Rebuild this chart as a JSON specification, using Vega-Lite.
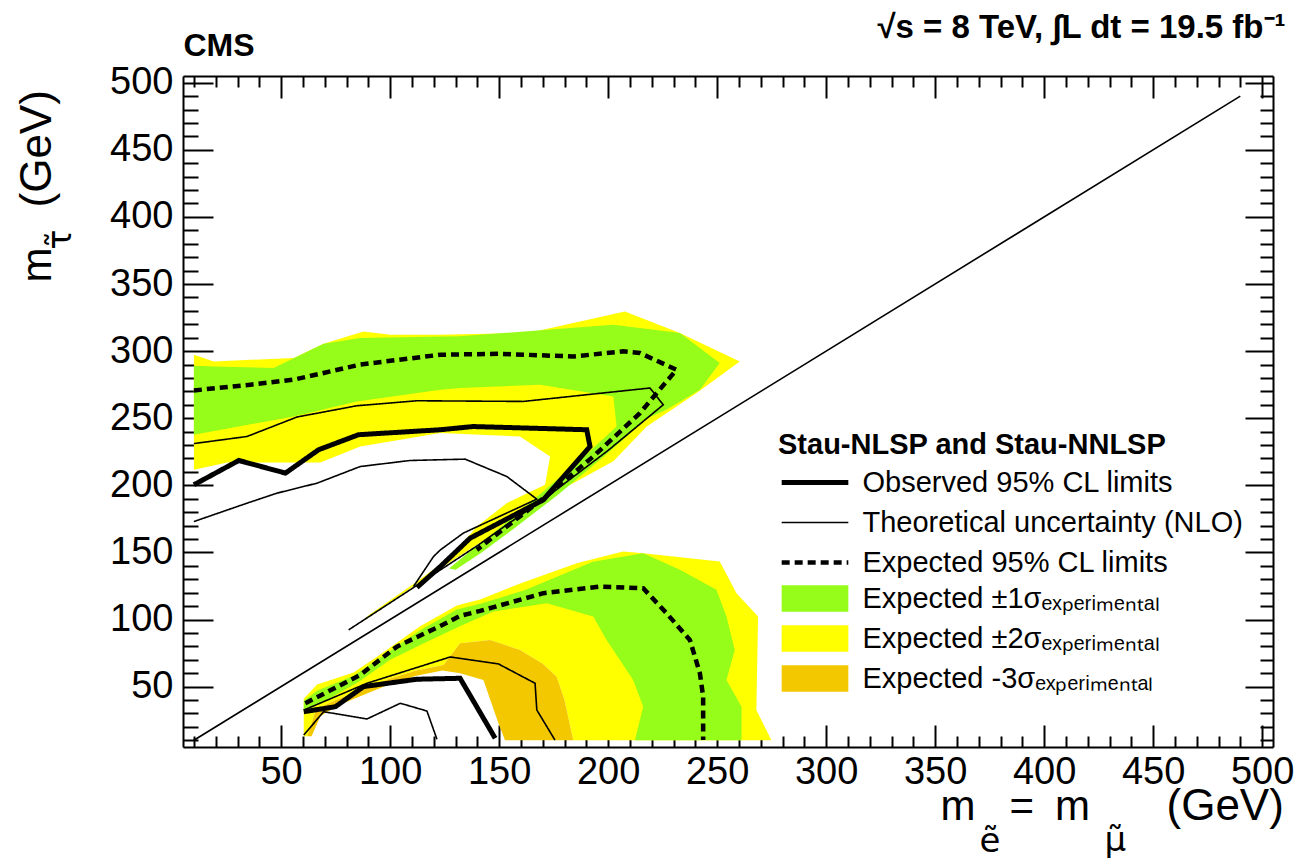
{
  "$schema": "https://vega.github.io/schema/vega-lite/v6.json",
  "width": 1090,
  "height": 671,
  "autosize": {"type": "none"},
  "padding": {"left": 183, "top": 76, "right": 29, "bottom": 112},
  "background": "white",
  "config": {"view": {"stroke": null}, "font": "Liberation Sans"},
  "resolve": {"axis": {"x": "independent", "y": "independent"}},
  "layer": [
    {
      "data": {"values": [
        {"poly":"Yu","band":"Expected ±2σₑₓₚₑᵣᵢₘₑₙₜₐₗ","i":0,"x":10,"y":297.3},
        {"poly":"Yu","band":"Expected ±2σₑₓₚₑᵣᵢₘₑₙₜₐₗ","i":1,"x":19.1,"y":292.3},
        {"poly":"Yu","band":"Expected ±2σₑₓₚₑᵣᵢₘₑₙₜₐₗ","i":2,"x":55.8,"y":294.9},
        {"poly":"Yu","band":"Expected ±2σₑₓₚₑᵣᵢₘₑₙₜₐₗ","i":3,"x":69.5,"y":305.5},
        {"poly":"Yu","band":"Expected ±2σₑₓₚₑᵣᵢₘₑₙₜₐₗ","i":4,"x":87.8,"y":314.7},
        {"poly":"Yu","band":"Expected ±2σₑₓₚₑᵣᵢₘₑₙₜₐₗ","i":5,"x":100.1,"y":312.2},
        {"poly":"Yu","band":"Expected ±2σₑₓₚₑᵣᵢₘₑₙₜₐₗ","i":6,"x":123,"y":312.2},
        {"poly":"Yu","band":"Expected ±2σₑₓₚₑᵣᵢₘₑₙₜₐₗ","i":7,"x":163.4,"y":313.5},
        {"poly":"Yu","band":"Expected ±2σₑₓₚₑᵣᵢₘₑₙₜₐₗ","i":8,"x":207.7,"y":329.6},
        {"poly":"Yu","band":"Expected ±2σₑₓₚₑᵣᵢₘₑₙₜₐₗ","i":9,"x":232.9,"y":313.5},
        {"poly":"Yu","band":"Expected ±2σₑₓₚₑᵣᵢₘₑₙₜₐₗ","i":10,"x":260.4,"y":292.3},
        {"poly":"Yu","band":"Expected ±2σₑₓₚₑᵣᵢₘₑₙₜₐₗ","i":11,"x":240.6,"y":268.8},
        {"poly":"Yu","band":"Expected ±2σₑₓₚₑᵣᵢₘₑₙₜₐₗ","i":12,"x":217.7,"y":243.8},
        {"poly":"Yu","band":"Expected ±2σₑₓₚₑᵣᵢₘₑₙₜₐₗ","i":13,"x":202.4,"y":218},
        {"poly":"Yu","band":"Expected ±2σₑₓₚₑᵣᵢₘₑₙₜₐₗ","i":14,"x":181,"y":199},
        {"poly":"Yu","band":"Expected ±2σₑₓₚₑᵣᵢₘₑₙₜₐₗ","i":15,"x":168.8,"y":186},
        {"poly":"Yu","band":"Expected ±2σₑₓₚₑᵣᵢₘₑₙₜₐₗ","i":16,"x":153.5,"y":169},
        {"poly":"Yu","band":"Expected ±2σₑₓₚₑᵣᵢₘₑₙₜₐₗ","i":17,"x":138.2,"y":154},
        {"poly":"Yu","band":"Expected ±2σₑₓₚₑᵣᵢₘₑₙₜₐₗ","i":18,"x":123,"y":138},
        {"poly":"Yu","band":"Expected ±2σₑₓₚₑᵣᵢₘₑₙₜₐₗ","i":19,"x":110,"y":124},
        {"poly":"Yu","band":"Expected ±2σₑₓₚₑᵣᵢₘₑₙₜₐₗ","i":20,"x":87,"y":98},
        {"poly":"Yu","band":"Expected ±2σₑₓₚₑᵣᵢₘₑₙₜₐₗ","i":21,"x":90,"y":103},
        {"poly":"Yu","band":"Expected ±2σₑₓₚₑᵣᵢₘₑₙₜₐₗ","i":22,"x":112,"y":128},
        {"poly":"Yu","band":"Expected ±2σₑₓₚₑᵣᵢₘₑₙₜₐₗ","i":23,"x":123,"y":141},
        {"poly":"Yu","band":"Expected ±2σₑₓₚₑᵣᵢₘₑₙₜₐₗ","i":24,"x":130.6,"y":151.9},
        {"poly":"Yu","band":"Expected ±2σₑₓₚₑᵣᵢₘₑₙₜₐₗ","i":25,"x":139.8,"y":169.3},
        {"poly":"Yu","band":"Expected ±2σₑₓₚₑᵣᵢₘₑₙₜₐₗ","i":26,"x":153.5,"y":186.7},
        {"poly":"Yu","band":"Expected ±2σₑₓₚₑᵣᵢₘₑₙₜₐₗ","i":27,"x":171.1,"y":200.4},
        {"poly":"Yu","band":"Expected ±2σₑₓₚₑᵣᵢₘₑₙₜₐₗ","i":28,"x":173.4,"y":221.5},
        {"poly":"Yu","band":"Expected ±2σₑₓₚₑᵣᵢₘₑₙₜₐₗ","i":29,"x":159.6,"y":236.4},
        {"poly":"Yu","band":"Expected ±2σₑₓₚₑᵣᵢₘₑₙₜₐₗ","i":30,"x":123,"y":238.9},
        {"poly":"Yu","band":"Expected ±2σₑₓₚₑᵣᵢₘₑₙₜₐₗ","i":31,"x":86.3,"y":228.9},
        {"poly":"Yu","band":"Expected ±2σₑₓₚₑᵣᵢₘₑₙₜₐₗ","i":32,"x":68,"y":217},
        {"poly":"Yu","band":"Expected ±2σₑₓₚₑᵣᵢₘₑₙₜₐₗ","i":33,"x":25.3,"y":217},
        {"poly":"Yu","band":"Expected ±2σₑₓₚₑᵣᵢₘₑₙₜₐₗ","i":34,"x":10,"y":211.6},
        {"poly":"Yl","band":"Expected ±2σₑₓₚₑᵣᵢₘₑₙₜₐₗ","i":0,"x":60.4,"y":13},
        {"poly":"Yl","band":"Expected ±2σₑₓₚₑᵣᵢₘₑₙₜₐₗ","i":1,"x":60.4,"y":41},
        {"poly":"Yl","band":"Expected ±2σₑₓₚₑᵣᵢₘₑₙₜₐₗ","i":2,"x":66.5,"y":51.5},
        {"poly":"Yl","band":"Expected ±2σₑₓₚₑᵣᵢₘₑₙₜₐₗ","i":3,"x":83.3,"y":60.5},
        {"poly":"Yl","band":"Expected ±2σₑₓₚₑᵣᵢₘₑₙₜₐₗ","i":4,"x":95.5,"y":74},
        {"poly":"Yl","band":"Expected ±2σₑₓₚₑᵣᵢₘₑₙₜₐₗ","i":5,"x":113.8,"y":95},
        {"poly":"Yl","band":"Expected ±2σₑₓₚₑᵣᵢₘₑₙₜₐₗ","i":6,"x":130.6,"y":110.5},
        {"poly":"Yl","band":"Expected ±2σₑₓₚₑᵣᵢₘₑₙₜₐₗ","i":7,"x":141.3,"y":115},
        {"poly":"Yl","band":"Expected ±2σₑₓₚₑᵣᵢₘₑₙₜₐₗ","i":8,"x":160,"y":127},
        {"poly":"Yl","band":"Expected ±2σₑₓₚₑᵣᵢₘₑₙₜₐₗ","i":9,"x":185.6,"y":142},
        {"poly":"Yl","band":"Expected ±2σₑₓₚₑᵣᵢₘₑₙₜₐₗ","i":10,"x":206.9,"y":150.6},
        {"poly":"Yl","band":"Expected ±2σₑₓₚₑᵣᵢₘₑₙₜₐₗ","i":11,"x":216.1,"y":149.4},
        {"poly":"Yl","band":"Expected ±2σₑₓₚₑᵣᵢₘₑₙₜₐₗ","i":12,"x":251.2,"y":143.2},
        {"poly":"Yl","band":"Expected ±2σₑₓₚₑᵣᵢₘₑₙₜₐₗ","i":13,"x":258.9,"y":119.6},
        {"poly":"Yl","band":"Expected ±2σₑₓₚₑᵣᵢₘₑₙₜₐₗ","i":14,"x":268.8,"y":102.2},
        {"poly":"Yl","band":"Expected ±2σₑₓₚₑᵣᵢₘₑₙₜₐₗ","i":15,"x":268,"y":32.6},
        {"poly":"Yl","band":"Expected ±2σₑₓₚₑᵣᵢₘₑₙₜₐₗ","i":16,"x":274.9,"y":10},
        {"poly":"Yl","band":"Expected ±2σₑₓₚₑᵣᵢₘₑₙₜₐₗ","i":17,"x":184,"y":10},
        {"poly":"Yl","band":"Expected ±2σₑₓₚₑᵣᵢₘₑₙₜₐₗ","i":18,"x":180,"y":40},
        {"poly":"Yl","band":"Expected ±2σₑₓₚₑᵣᵢₘₑₙₜₐₗ","i":19,"x":176.4,"y":57.4},
        {"poly":"Yl","band":"Expected ±2σₑₓₚₑᵣᵢₘₑₙₜₐₗ","i":20,"x":170,"y":67},
        {"poly":"Yl","band":"Expected ±2σₑₓₚₑᵣᵢₘₑₙₜₐₗ","i":21,"x":159.6,"y":77.3},
        {"poly":"Yl","band":"Expected ±2σₑₓₚₑᵣᵢₘₑₙₜₐₗ","i":22,"x":145.9,"y":84.8},
        {"poly":"Yl","band":"Expected ±2σₑₓₚₑᵣᵢₘₑₙₜₐₗ","i":23,"x":132.1,"y":82.3},
        {"poly":"Yl","band":"Expected ±2σₑₓₚₑᵣᵢₘₑₙₜₐₗ","i":24,"x":124.5,"y":66.1},
        {"poly":"Yl","band":"Expected ±2σₑₓₚₑᵣᵢₘₑₙₜₐₗ","i":25,"x":112,"y":62},
        {"poly":"Yl","band":"Expected ±2σₑₓₚₑᵣᵢₘₑₙₜₐₗ","i":26,"x":100,"y":56},
        {"poly":"Yl","band":"Expected ±2σₑₓₚₑᵣᵢₘₑₙₜₐₗ","i":27,"x":87,"y":48},
        {"poly":"Yl","band":"Expected ±2σₑₓₚₑᵣᵢₘₑₙₜₐₗ","i":28,"x":75,"y":40},
        {"poly":"Yl","band":"Expected ±2σₑₓₚₑᵣᵢₘₑₙₜₐₗ","i":29,"x":66,"y":33},
        {"poly":"Yl","band":"Expected ±2σₑₓₚₑᵣᵢₘₑₙₜₐₗ","i":30,"x":62,"y":13}
      ]},
      "mark": {"type": "line", "strokeWidth": 0, "fillOpacity": 1},
      "encoding": {
        "x": {"field": "x", "type": "quantitative", "scale": {"domain": [5, 505], "nice": false, "zero": false},
          "axis": {"orient": "bottom", "values": [50,100,150,200,250,300,350,400,450,500], "tickSize": -22, "tickWidth": 2, "tickColor": "black", "labels": false, "domain": true, "domainWidth": 2, "domainColor": "black", "grid": false,
            "title": "m", "titleFont": "Liberation Sans", "titleFontSize": 42, "titleFontWeight": "normal", "titleColor": "black", "titleX": 757, "titleY": 72, "titleAlign": "left", "titleBaseline": "alphabetic", "titleAngle": 0}},
        "y": {"field": "y", "type": "quantitative", "scale": {"domain": [5, 505], "nice": false, "zero": false},
          "axis": {"orient": "left", "values": [50,100,150,200,250,300,350,400,450,500], "tickSize": -30, "tickWidth": 2, "tickColor": "black", "labels": false, "domain": true, "domainWidth": 2, "domainColor": "black", "grid": false,
            "title": "m", "titleFont": "Liberation Sans", "titleFontSize": 42, "titleFontWeight": "normal", "titleColor": "black", "titleX": -133, "titleY": 206, "titleAlign": "left", "titleBaseline": "alphabetic", "titleAngle": -90}},
        "detail": {"field": "poly"},
        "order": {"field": "i", "type": "quantitative"},
        "fill": {"field": "band", "type": "nominal",
          "scale": {"domain": ["Expected ±1σₑₓₚₑᵣᵢₘₑₙₜₐₗ", "Expected ±2σₑₓₚₑᵣᵢₘₑₙₜₐₗ", "Expected -3σₑₓₚₑᵣᵢₘₑₙₜₐₗ"], "range": ["#96FC19", "#FFFF00", "#F4C800"]},
          "legend": {"title": null, "orient": "none", "legendX": 595, "legendY": 508, "padding": 0, "labelFont": "Liberation Sans", "labelFontSize": 29, "labelColor": "black", "labelLimit": 0, "labelOffset": 33, "symbolOffset": 22.5, "symbolType": "M-3.333,-1.333H3.333V1.333H-3.333Z", "symbolSize": 400, "symbolStrokeWidth": 0, "symbolOpacity": 1, "rowPadding": 10}}
      }
    },
    {
      "data": {"values": [
        {"poly":"Gu","band":"Expected ±1σₑₓₚₑᵣᵢₘₑₙₜₐₗ","i":0,"x":10,"y":289.1},
        {"poly":"Gu","band":"Expected ±1σₑₓₚₑᵣᵢₘₑₙₜₐₗ","i":1,"x":19.1,"y":288.6},
        {"poly":"Gu","band":"Expected ±1σₑₓₚₑᵣᵢₘₑₙₜₐₗ","i":2,"x":46.6,"y":287.4},
        {"poly":"Gu","band":"Expected ±1σₑₓₚₑᵣᵢₘₑₙₜₐₗ","i":3,"x":69.5,"y":305.5},
        {"poly":"Gu","band":"Expected ±1σₑₓₚₑᵣᵢₘₑₙₜₐₗ","i":4,"x":86.3,"y":309.8},
        {"poly":"Gu","band":"Expected ±1σₑₓₚₑᵣᵢₘₑₙₜₐₗ","i":5,"x":132.1,"y":311},
        {"poly":"Gu","band":"Expected ±1σₑₓₚₑᵣᵢₘₑₙₜₐₗ","i":6,"x":202.4,"y":319.7},
        {"poly":"Gu","band":"Expected ±1σₑₓₚₑᵣᵢₘₑₙₜₐₗ","i":7,"x":232.9,"y":313.5},
        {"poly":"Gu","band":"Expected ±1σₑₓₚₑᵣᵢₘₑₙₜₐₗ","i":8,"x":251.2,"y":291.1},
        {"poly":"Gu","band":"Expected ±1σₑₓₚₑᵣᵢₘₑₙₜₐₗ","i":9,"x":242.1,"y":271.2},
        {"poly":"Gu","band":"Expected ±1σₑₓₚₑᵣᵢₘₑₙₜₐₗ","i":10,"x":226.8,"y":256.3},
        {"poly":"Gu","band":"Expected ±1σₑₓₚₑᵣᵢₘₑₙₜₐₗ","i":11,"x":218,"y":250},
        {"poly":"Gu","band":"Expected ±1σₑₓₚₑᵣᵢₘₑₙₜₐₗ","i":12,"x":197,"y":220},
        {"poly":"Gu","band":"Expected ±1σₑₓₚₑᵣᵢₘₑₙₜₐₗ","i":13,"x":177,"y":193},
        {"poly":"Gu","band":"Expected ±1σₑₓₚₑᵣᵢₘₑₙₜₐₗ","i":14,"x":157,"y":168},
        {"poly":"Gu","band":"Expected ±1σₑₓₚₑᵣᵢₘₑₙₜₐₗ","i":15,"x":142,"y":150},
        {"poly":"Gu","band":"Expected ±1σₑₓₚₑᵣᵢₘₑₙₜₐₗ","i":16,"x":130,"y":137},
        {"poly":"Gu","band":"Expected ±1σₑₓₚₑᵣᵢₘₑₙₜₐₗ","i":17,"x":127,"y":138},
        {"poly":"Gu","band":"Expected ±1σₑₓₚₑᵣᵢₘₑₙₜₐₗ","i":18,"x":136,"y":150},
        {"poly":"Gu","band":"Expected ±1σₑₓₚₑᵣᵢₘₑₙₜₐₗ","i":19,"x":150,"y":168},
        {"poly":"Gu","band":"Expected ±1σₑₓₚₑᵣᵢₘₑₙₜₐₗ","i":20,"x":170,"y":195},
        {"poly":"Gu","band":"Expected ±1σₑₓₚₑᵣᵢₘₑₙₜₐₗ","i":21,"x":190,"y":223},
        {"poly":"Gu","band":"Expected ±1σₑₓₚₑᵣᵢₘₑₙₜₐₗ","i":22,"x":203.9,"y":243.8},
        {"poly":"Gu","band":"Expected ±1σₑₓₚₑᵣᵢₘₑₙₜₐₗ","i":23,"x":202.4,"y":266.2},
        {"poly":"Gu","band":"Expected ±1σₑₓₚₑᵣᵢₘₑₙₜₐₗ","i":24,"x":168.8,"y":275},
        {"poly":"Gu","band":"Expected ±1σₑₓₚₑᵣᵢₘₑₙₜₐₗ","i":25,"x":132.1,"y":272.5},
        {"poly":"Gu","band":"Expected ±1σₑₓₚₑᵣᵢₘₑₙₜₐₗ","i":26,"x":123,"y":271.2},
        {"poly":"Gu","band":"Expected ±1σₑₓₚₑᵣᵢₘₑₙₜₐₗ","i":27,"x":84.8,"y":262.5},
        {"poly":"Gu","band":"Expected ±1σₑₓₚₑᵣᵢₘₑₙₜₐₗ","i":28,"x":55.8,"y":251.3},
        {"poly":"Gu","band":"Expected ±1σₑₓₚₑᵣᵢₘₑₙₜₐₗ","i":29,"x":10,"y":237.7},
        {"poly":"Gl","band":"Expected ±1σₑₓₚₑᵣᵢₘₑₙₜₐₗ","i":0,"x":60.4,"y":39.5},
        {"poly":"Gl","band":"Expected ±1σₑₓₚₑᵣᵢₘₑₙₜₐₗ","i":1,"x":66.5,"y":47},
        {"poly":"Gl","band":"Expected ±1σₑₓₚₑᵣᵢₘₑₙₜₐₗ","i":2,"x":83.3,"y":58},
        {"poly":"Gl","band":"Expected ±1σₑₓₚₑᵣᵢₘₑₙₜₐₗ","i":3,"x":95.5,"y":71.5},
        {"poly":"Gl","band":"Expected ±1σₑₓₚₑᵣᵢₘₑₙₜₐₗ","i":4,"x":113.8,"y":92},
        {"poly":"Gl","band":"Expected ±1σₑₓₚₑᵣᵢₘₑₙₜₐₗ","i":5,"x":130.6,"y":107.5},
        {"poly":"Gl","band":"Expected ±1σₑₓₚₑᵣᵢₘₑₙₜₐₗ","i":6,"x":141,"y":111.5},
        {"poly":"Gl","band":"Expected ±1σₑₓₚₑᵣᵢₘₑₙₜₐₗ","i":7,"x":162,"y":122},
        {"poly":"Gl","band":"Expected ±1σₑₓₚₑᵣᵢₘₑₙₜₐₗ","i":8,"x":193,"y":143},
        {"poly":"Gl","band":"Expected ±1σₑₓₚₑᵣᵢₘₑₙₜₐₗ","i":9,"x":216.1,"y":149.4},
        {"poly":"Gl","band":"Expected ±1σₑₓₚₑᵣᵢₘₑₙₜₐₗ","i":10,"x":232.9,"y":137},
        {"poly":"Gl","band":"Expected ±1σₑₓₚₑᵣᵢₘₑₙₜₐₗ","i":11,"x":249.7,"y":122.1},
        {"poly":"Gl","band":"Expected ±1σₑₓₚₑᵣᵢₘₑₙₜₐₗ","i":12,"x":254.3,"y":102.2},
        {"poly":"Gl","band":"Expected ±1σₑₓₚₑᵣᵢₘₑₙₜₐₗ","i":13,"x":258.1,"y":77.3},
        {"poly":"Gl","band":"Expected ±1σₑₓₚₑᵣᵢₘₑₙₜₐₗ","i":14,"x":254.3,"y":55},
        {"poly":"Gl","band":"Expected ±1σₑₓₚₑᵣᵢₘₑₙₜₐₗ","i":15,"x":261.2,"y":35},
        {"poly":"Gl","band":"Expected ±1σₑₓₚₑᵣᵢₘₑₙₜₐₗ","i":16,"x":261.2,"y":10},
        {"poly":"Gl","band":"Expected ±1σₑₓₚₑᵣᵢₘₑₙₜₐₗ","i":17,"x":212.3,"y":10},
        {"poly":"Gl","band":"Expected ±1σₑₓₚₑᵣᵢₘₑₙₜₐₗ","i":18,"x":216.1,"y":35},
        {"poly":"Gl","band":"Expected ±1σₑₓₚₑᵣᵢₘₑₙₜₐₗ","i":19,"x":211.5,"y":55},
        {"poly":"Gl","band":"Expected ±1σₑₓₚₑᵣᵢₘₑₙₜₐₗ","i":20,"x":199.3,"y":84.8},
        {"poly":"Gl","band":"Expected ±1σₑₓₚₑᵣᵢₘₑₙₜₐₗ","i":21,"x":193.2,"y":102.2},
        {"poly":"Gl","band":"Expected ±1σₑₓₚₑᵣᵢₘₑₙₜₐₗ","i":22,"x":171.9,"y":112.2},
        {"poly":"Gl","band":"Expected ±1σₑₓₚₑᵣᵢₘₑₙₜₐₗ","i":23,"x":147.4,"y":105.9},
        {"poly":"Gl","band":"Expected ±1σₑₓₚₑᵣᵢₘₑₙₜₐₗ","i":24,"x":132,"y":95},
        {"poly":"Gl","band":"Expected ±1σₑₓₚₑᵣᵢₘₑₙₜₐₗ","i":25,"x":115,"y":82},
        {"poly":"Gl","band":"Expected ±1σₑₓₚₑᵣᵢₘₑₙₜₐₗ","i":26,"x":100,"y":70},
        {"poly":"Gl","band":"Expected ±1σₑₓₚₑᵣᵢₘₑₙₜₐₗ","i":27,"x":86,"y":54},
        {"poly":"Gl","band":"Expected ±1σₑₓₚₑᵣᵢₘₑₙₜₐₗ","i":28,"x":70,"y":39},
        {"poly":"Gl","band":"Expected ±1σₑₓₚₑᵣᵢₘₑₙₜₐₗ","i":29,"x":60.4,"y":33}
      ]},
      "mark": {"type": "line", "strokeWidth": 0, "fillOpacity": 1},
      "encoding": {
        "x": {"field": "x", "type": "quantitative",
          "axis": {"orient": "bottom", "values": [10,20,30,40,60,70,80,90,110,120,130,140,160,170,180,190,210,220,230,240,260,270,280,290,310,320,330,340,360,370,380,390,410,420,430,440,460,470,480,490], "tickSize": -11, "tickWidth": 2, "tickColor": "black", "labels": false, "domain": false, "grid": false,
            "title": "ẽ", "titleFont": "DejaVu Sans", "titleFontSize": 34, "titleFontWeight": "normal", "titleColor": "black", "titleX": 796, "titleY": 104, "titleAlign": "left", "titleBaseline": "alphabetic", "titleAngle": 0}},
        "y": {"field": "y", "type": "quantitative",
          "axis": {"orient": "left", "values": [10,20,30,40,60,70,80,90,110,120,130,140,160,170,180,190,210,220,230,240,260,270,280,290,310,320,330,340,360,370,380,390,410,420,430,440,460,470,480,490], "tickSize": -15, "tickWidth": 2, "tickColor": "black", "labels": false, "domain": false, "grid": false,
            "title": "τ̃", "titleFont": "DejaVu Sans", "titleFontSize": 33, "titleFontWeight": "normal", "titleColor": "black", "titleX": -113, "titleY": 173, "titleAlign": "left", "titleBaseline": "alphabetic", "titleAngle": -90}},
        "detail": {"field": "poly"},
        "order": {"field": "i", "type": "quantitative"},
        "fill": {"field": "band", "type": "nominal"}
      }
    },
    {
      "data": {"values": [
        {"poly":"Ol","band":"Expected -3σₑₓₚₑᵣᵢₘₑₙₜₐₗ","i":0,"x":62,"y":13},
        {"poly":"Ol","band":"Expected -3σₑₓₚₑᵣᵢₘₑₙₜₐₗ","i":1,"x":66,"y":33},
        {"poly":"Ol","band":"Expected -3σₑₓₚₑᵣᵢₘₑₙₜₐₗ","i":2,"x":75,"y":40},
        {"poly":"Ol","band":"Expected -3σₑₓₚₑᵣᵢₘₑₙₜₐₗ","i":3,"x":87,"y":48},
        {"poly":"Ol","band":"Expected -3σₑₓₚₑᵣᵢₘₑₙₜₐₗ","i":4,"x":100,"y":56},
        {"poly":"Ol","band":"Expected -3σₑₓₚₑᵣᵢₘₑₙₜₐₗ","i":5,"x":112,"y":62},
        {"poly":"Ol","band":"Expected -3σₑₓₚₑᵣᵢₘₑₙₜₐₗ","i":6,"x":124.5,"y":66.1},
        {"poly":"Ol","band":"Expected -3σₑₓₚₑᵣᵢₘₑₙₜₐₗ","i":7,"x":132.1,"y":82.3},
        {"poly":"Ol","band":"Expected -3σₑₓₚₑᵣᵢₘₑₙₜₐₗ","i":8,"x":145.9,"y":84.8},
        {"poly":"Ol","band":"Expected -3σₑₓₚₑᵣᵢₘₑₙₜₐₗ","i":9,"x":159.6,"y":77.3},
        {"poly":"Ol","band":"Expected -3σₑₓₚₑᵣᵢₘₑₙₜₐₗ","i":10,"x":170,"y":67},
        {"poly":"Ol","band":"Expected -3σₑₓₚₑᵣᵢₘₑₙₜₐₗ","i":11,"x":176.4,"y":57.4},
        {"poly":"Ol","band":"Expected -3σₑₓₚₑᵣᵢₘₑₙₜₐₗ","i":12,"x":180,"y":40},
        {"poly":"Ol","band":"Expected -3σₑₓₚₑᵣᵢₘₑₙₜₐₗ","i":13,"x":184,"y":10},
        {"poly":"Ol","band":"Expected -3σₑₓₚₑᵣᵢₘₑₙₜₐₗ","i":14,"x":152.7,"y":10},
        {"poly":"Ol","band":"Expected -3σₑₓₚₑᵣᵢₘₑₙₜₐₗ","i":15,"x":149.7,"y":22.7},
        {"poly":"Ol","band":"Expected -3σₑₓₚₑᵣᵢₘₑₙₜₐₗ","i":16,"x":142.8,"y":55},
        {"poly":"Ol","band":"Expected -3σₑₓₚₑᵣᵢₘₑₙₜₐₗ","i":17,"x":132.1,"y":60},
        {"poly":"Ol","band":"Expected -3σₑₓₚₑᵣᵢₘₑₙₜₐₗ","i":18,"x":124,"y":62},
        {"poly":"Ol","band":"Expected -3σₑₓₚₑᵣᵢₘₑₙₜₐₗ","i":19,"x":112,"y":58},
        {"poly":"Ol","band":"Expected -3σₑₓₚₑᵣᵢₘₑₙₜₐₗ","i":20,"x":100,"y":52},
        {"poly":"Ol","band":"Expected -3σₑₓₚₑᵣᵢₘₑₙₜₐₗ","i":21,"x":88,"y":44},
        {"poly":"Ol","band":"Expected -3σₑₓₚₑᵣᵢₘₑₙₜₐₗ","i":22,"x":76,"y":36},
        {"poly":"Ol","band":"Expected -3σₑₓₚₑᵣᵢₘₑₙₜₐₗ","i":23,"x":68,"y":28},
        {"poly":"Ol","band":"Expected -3σₑₓₚₑᵣᵢₘₑₙₜₐₗ","i":24,"x":64,"y":13}
      ]},
      "mark": {"type": "line", "strokeWidth": 0, "fillOpacity": 1},
      "encoding": {
        "x": {"field": "x", "type": "quantitative",
          "axis": {"orient": "top", "values": [50,100,150,200,250,300,350,400,450,500], "tickSize": -22, "tickWidth": 2, "tickColor": "black", "labels": false, "domain": true, "domainWidth": 2, "domainColor": "black", "grid": false,
            "title": "=\u2002m", "titleFont": "Liberation Sans", "titleFontSize": 42, "titleFontWeight": "normal", "titleColor": "black", "titleX": 826, "titleY": 743, "titleAlign": "left", "titleBaseline": "alphabetic", "titleAngle": 0}},
        "y": {"field": "y", "type": "quantitative",
          "axis": {"orient": "right", "values": [50,100,150,200,250,300,350,400,450,500], "tickSize": -28, "tickWidth": 2, "tickColor": "black", "labels": false, "domain": true, "domainWidth": 2, "domainColor": "black", "grid": false,
            "title": "(GeV)", "titleFont": "Liberation Sans", "titleFontSize": 44, "titleFontWeight": "normal", "titleColor": "black", "titleX": -1223, "titleY": 131, "titleAlign": "left", "titleBaseline": "alphabetic", "titleAngle": -90}},
        "detail": {"field": "poly"},
        "order": {"field": "i", "type": "quantitative"},
        "fill": {"field": "band", "type": "nominal"}
      }
    },
    {
      "data": {"values": [
        {"line":"obs_u","style":"Observed 95% CL limits","i":0,"x":10,"y":200.4},
        {"line":"obs_u","style":"Observed 95% CL limits","i":1,"x":30.6,"y":218.5},
        {"line":"obs_u","style":"Observed 95% CL limits","i":2,"x":52,"y":209.1},
        {"line":"obs_u","style":"Observed 95% CL limits","i":3,"x":67.2,"y":226.5},
        {"line":"obs_u","style":"Observed 95% CL limits","i":4,"x":85.5,"y":237.7},
        {"line":"obs_u","style":"Observed 95% CL limits","i":5,"x":123,"y":241.4},
        {"line":"obs_u","style":"Observed 95% CL limits","i":6,"x":138.1,"y":243.8},
        {"line":"obs_u","style":"Observed 95% CL limits","i":7,"x":190.2,"y":241.4},
        {"line":"obs_u","style":"Observed 95% CL limits","i":8,"x":191.7,"y":228.9},
        {"line":"obs_u","style":"Observed 95% CL limits","i":9,"x":181,"y":209.1},
        {"line":"obs_u","style":"Observed 95% CL limits","i":10,"x":170.3,"y":189.2},
        {"line":"obs_u","style":"Observed 95% CL limits","i":11,"x":136.7,"y":160.6},
        {"line":"obs_u","style":"Observed 95% CL limits","i":12,"x":123,"y":139.4},
        {"line":"obs_u","style":"Observed 95% CL limits","i":13,"x":112.3,"y":123.9},
        {"line":"obs_l","style":"Observed 95% CL limits","i":0,"x":60.4,"y":31.3},
        {"line":"obs_l","style":"Observed 95% CL limits","i":1,"x":74.9,"y":35},
        {"line":"obs_l","style":"Observed 95% CL limits","i":2,"x":87.8,"y":50},
        {"line":"obs_l","style":"Observed 95% CL limits","i":3,"x":112.3,"y":55.5},
        {"line":"obs_l","style":"Observed 95% CL limits","i":4,"x":132.1,"y":56.2},
        {"line":"obs_l","style":"Observed 95% CL limits","i":5,"x":148.2,"y":11.5},
        {"line":"th_u1","style":"Theoretical uncertainty (NLO)","i":0,"x":10,"y":231.1},
        {"line":"th_u1","style":"Theoretical uncertainty (NLO)","i":1,"x":34.4,"y":236.4},
        {"line":"th_u1","style":"Theoretical uncertainty (NLO)","i":2,"x":57.3,"y":250.9},
        {"line":"th_u1","style":"Theoretical uncertainty (NLO)","i":3,"x":84.8,"y":259.3},
        {"line":"th_u1","style":"Theoretical uncertainty (NLO)","i":4,"x":112.3,"y":263},
        {"line":"th_u1","style":"Theoretical uncertainty (NLO)","i":5,"x":161.1,"y":262.5},
        {"line":"th_u1","style":"Theoretical uncertainty (NLO)","i":6,"x":219.2,"y":272.5},
        {"line":"th_u1","style":"Theoretical uncertainty (NLO)","i":7,"x":225.3,"y":260},
        {"line":"th_u1","style":"Theoretical uncertainty (NLO)","i":8,"x":200,"y":226},
        {"line":"th_u1","style":"Theoretical uncertainty (NLO)","i":9,"x":170,"y":189},
        {"line":"th_u1","style":"Theoretical uncertainty (NLO)","i":10,"x":153,"y":170},
        {"line":"th_u1","style":"Theoretical uncertainty (NLO)","i":11,"x":140,"y":155},
        {"line":"th_u1","style":"Theoretical uncertainty (NLO)","i":12,"x":110,"y":123},
        {"line":"th_u1","style":"Theoretical uncertainty (NLO)","i":13,"x":81,"y":92.3},
        {"line":"th_u2","style":"Theoretical uncertainty (NLO)","i":0,"x":10,"y":173},
        {"line":"th_u2","style":"Theoretical uncertainty (NLO)","i":1,"x":34.4,"y":186.7},
        {"line":"th_u2","style":"Theoretical uncertainty (NLO)","i":2,"x":48.2,"y":194.2},
        {"line":"th_u2","style":"Theoretical uncertainty (NLO)","i":3,"x":66.5,"y":201.6},
        {"line":"th_u2","style":"Theoretical uncertainty (NLO)","i":4,"x":86.3,"y":214},
        {"line":"th_u2","style":"Theoretical uncertainty (NLO)","i":5,"x":109.2,"y":218.5},
        {"line":"th_u2","style":"Theoretical uncertainty (NLO)","i":6,"x":134.4,"y":219.5},
        {"line":"th_u2","style":"Theoretical uncertainty (NLO)","i":7,"x":153.5,"y":206.6},
        {"line":"th_u2","style":"Theoretical uncertainty (NLO)","i":8,"x":167.3,"y":189.7},
        {"line":"th_u2","style":"Theoretical uncertainty (NLO)","i":9,"x":133.6,"y":164.4},
        {"line":"th_u2","style":"Theoretical uncertainty (NLO)","i":10,"x":123,"y":151.8},
        {"line":"th_u2","style":"Theoretical uncertainty (NLO)","i":11,"x":119.9,"y":146.9},
        {"line":"th_u2","style":"Theoretical uncertainty (NLO)","i":12,"x":110.7,"y":124.5},
        {"line":"th_l1","style":"Theoretical uncertainty (NLO)","i":0,"x":60.4,"y":32.5},
        {"line":"th_l1","style":"Theoretical uncertainty (NLO)","i":1,"x":89.4,"y":52.5},
        {"line":"th_l1","style":"Theoretical uncertainty (NLO)","i":2,"x":127.6,"y":72.1},
        {"line":"th_l1","style":"Theoretical uncertainty (NLO)","i":3,"x":149.7,"y":66.9},
        {"line":"th_l1","style":"Theoretical uncertainty (NLO)","i":4,"x":166.5,"y":52.5},
        {"line":"th_l1","style":"Theoretical uncertainty (NLO)","i":5,"x":167.3,"y":32.6},
        {"line":"th_l1","style":"Theoretical uncertainty (NLO)","i":6,"x":175.6,"y":10.2},
        {"line":"th_l2","style":"Theoretical uncertainty (NLO)","i":0,"x":60.4,"y":13.9},
        {"line":"th_l2","style":"Theoretical uncertainty (NLO)","i":1,"x":69.5,"y":31.3},
        {"line":"th_l2","style":"Theoretical uncertainty (NLO)","i":2,"x":89.4,"y":25.9},
        {"line":"th_l2","style":"Theoretical uncertainty (NLO)","i":3,"x":104.7,"y":37.6},
        {"line":"th_l2","style":"Theoretical uncertainty (NLO)","i":4,"x":116.9,"y":31.8},
        {"line":"th_l2","style":"Theoretical uncertainty (NLO)","i":5,"x":121.5,"y":10.7},
        {"line":"exp_u","style":"Expected 95% CL limits","i":0,"x":10,"y":270.7},
        {"line":"exp_u","style":"Expected 95% CL limits","i":1,"x":35.9,"y":275},
        {"line":"exp_u","style":"Expected 95% CL limits","i":2,"x":55.8,"y":278.7},
        {"line":"exp_u","style":"Expected 95% CL limits","i":3,"x":69.5,"y":283.7},
        {"line":"exp_u","style":"Expected 95% CL limits","i":4,"x":86.3,"y":290},
        {"line":"exp_u","style":"Expected 95% CL limits","i":5,"x":123,"y":297.3},
        {"line":"exp_u","style":"Expected 95% CL limits","i":6,"x":150,"y":298},
        {"line":"exp_u","style":"Expected 95% CL limits","i":7,"x":184,"y":296},
        {"line":"exp_u","style":"Expected 95% CL limits","i":8,"x":206.9,"y":299.8},
        {"line":"exp_u","style":"Expected 95% CL limits","i":9,"x":214.6,"y":298.6},
        {"line":"exp_u","style":"Expected 95% CL limits","i":10,"x":231.4,"y":286.1},
        {"line":"exp_u","style":"Expected 95% CL limits","i":11,"x":226.8,"y":277.4},
        {"line":"exp_u","style":"Expected 95% CL limits","i":12,"x":214.6,"y":253.8},
        {"line":"exp_u","style":"Expected 95% CL limits","i":13,"x":193.2,"y":221.5},
        {"line":"exp_u","style":"Expected 95% CL limits","i":14,"x":173.4,"y":194.2},
        {"line":"exp_u","style":"Expected 95% CL limits","i":15,"x":153.5,"y":169.3},
        {"line":"exp_u","style":"Expected 95% CL limits","i":16,"x":139.8,"y":151.9},
        {"line":"exp_l","style":"Expected 95% CL limits","i":0,"x":61.1,"y":37.6},
        {"line":"exp_l","style":"Expected 95% CL limits","i":1,"x":86.3,"y":58.7},
        {"line":"exp_l","style":"Expected 95% CL limits","i":2,"x":103.1,"y":79.8},
        {"line":"exp_l","style":"Expected 95% CL limits","i":3,"x":123,"y":95.2},
        {"line":"exp_l","style":"Expected 95% CL limits","i":4,"x":132.1,"y":102.7},
        {"line":"exp_l","style":"Expected 95% CL limits","i":5,"x":141.3,"y":106.4},
        {"line":"exp_l","style":"Expected 95% CL limits","i":6,"x":170.3,"y":119.6},
        {"line":"exp_l","style":"Expected 95% CL limits","i":7,"x":196.3,"y":124.5},
        {"line":"exp_l","style":"Expected 95% CL limits","i":8,"x":216.1,"y":123.3},
        {"line":"exp_l","style":"Expected 95% CL limits","i":9,"x":226.8,"y":104.7},
        {"line":"exp_l","style":"Expected 95% CL limits","i":10,"x":237.5,"y":84.8},
        {"line":"exp_l","style":"Expected 95% CL limits","i":11,"x":242.1,"y":60},
        {"line":"exp_l","style":"Expected 95% CL limits","i":12,"x":243.6,"y":42.5},
        {"line":"exp_l","style":"Expected 95% CL limits","i":13,"x":243.6,"y":10.2}
      ]},
      "mark": {"type": "line", "color": "black", "strokeCap": "butt", "strokeJoin": "miter"},
      "encoding": {
        "x": {"field": "x", "type": "quantitative",
          "axis": {"orient": "top", "values": [10,20,30,40,60,70,80,90,110,120,130,140,160,170,180,190,210,220,230,240,260,270,280,290,310,320,330,340,360,370,380,390,410,420,430,440,460,470,480,490], "tickSize": -11, "tickWidth": 2, "tickColor": "black", "labels": false, "domain": false, "grid": false,
            "title": "μ̃", "titleFont": "DejaVu Sans", "titleFontSize": 34, "titleFontWeight": "normal", "titleColor": "black", "titleX": 921, "titleY": 774, "titleAlign": "left", "titleBaseline": "alphabetic", "titleAngle": 0}},
        "y": {"field": "y", "type": "quantitative",
          "axis": {"orient": "right", "values": [10,20,30,40,60,70,80,90,110,120,130,140,160,170,180,190,210,220,230,240,260,270,280,290,310,320,330,340,360,370,380,390,410,420,430,440,460,470,480,490], "tickSize": -13, "tickWidth": 2, "tickColor": "black", "labels": false, "domain": false, "grid": false,
            "title": "CMS", "titleFont": "Liberation Sans", "titleFontSize": 32, "titleFontWeight": "bold", "titleColor": "black", "titleX": -1090, "titleY": -21, "titleAlign": "left", "titleBaseline": "alphabetic", "titleAngle": 0}},
        "detail": {"field": "line"},
        "order": {"field": "i", "type": "quantitative"},
        "strokeDash": {"field": "style", "type": "nominal",
          "scale": {"domain": ["Observed 95% CL limits", "Theoretical uncertainty (NLO)", "Expected 95% CL limits"], "range": [[1, 0], [1, 0], [8, 5]]},
          "legend": {"title": "Stau-NLSP and Stau-NNLSP", "orient": "none", "legendX": 595, "legendY": 355, "padding": 0, "titleFont": "Liberation Sans", "titleFontSize": 29, "titleFontWeight": "bold", "titleColor": "black", "titleLimit": 0, "titlePadding": 8, "labelFont": "Liberation Sans", "labelFontSize": 29, "labelColor": "black", "labelLimit": 0, "labelOffset": 33, "symbolOffset": 22.5, "symbolType": "M-3.333,0H3.333", "symbolSize": 400, "symbolStrokeColor": "black", "rowPadding": 10}},
        "strokeWidth": {"field": "style", "type": "nominal",
          "scale": {"type": "ordinal", "domain": ["Observed 95% CL limits", "Theoretical uncertainty (NLO)", "Expected 95% CL limits"], "range": [5, 1.6, 4.5]},
          "legend": {"title": "Stau-NLSP and Stau-NNLSP", "orient": "none", "legendX": 595, "legendY": 355, "padding": 0, "titleFont": "Liberation Sans", "titleFontSize": 29, "titleFontWeight": "bold", "titleColor": "black", "titleLimit": 0, "titlePadding": 8, "labelFont": "Liberation Sans", "labelFontSize": 29, "labelColor": "black", "labelLimit": 0, "labelOffset": 33, "symbolOffset": 22.5, "symbolType": "M-3.333,0H3.333", "symbolSize": 400, "symbolStrokeColor": "black", "rowPadding": 10}}
      }
    },
    {
      "data": {"values": [
        {"x": 10, "y": 10},
        {"x": 490, "y": 490}
      ]},
      "mark": {"type": "line", "color": "black", "strokeWidth": 1.6},
      "encoding": {
        "x": {"field": "x", "type": "quantitative",
          "axis": {"orient": "bottom", "values": [50,100,150,200,250,300,350,400,450,500], "ticks": false, "domain": false, "grid": false, "labels": true, "labelFont": "Liberation Sans", "labelFontSize": 38, "labelColor": "black", "labelPadding": 6, "labelFlush": false, "labelOverlap": false, "labelBound": false,
            "title": "(GeV)", "titleFont": "Liberation Sans", "titleFontSize": 44, "titleFontWeight": "normal", "titleColor": "black", "titleX": 983, "titleY": 72, "titleAlign": "left", "titleBaseline": "alphabetic", "titleAngle": 0}},
        "y": {"field": "y", "type": "quantitative",
          "axis": {"orient": "left", "values": [50,100,150,200,250,300,350,400,450,500], "ticks": false, "domain": false, "grid": false, "labels": true, "labelFont": "Liberation Sans", "labelFontSize": 38, "labelColor": "black", "labelPadding": 10, "labelFlush": false, "labelOverlap": false, "labelBound": false,
            "title": "√s = 8 TeV,  ∫L dt = 19.5 fb⁻¹", "titleFont": "Liberation Sans", "titleFontSize": 33, "titleFontWeight": "bold", "titleColor": "black", "titleX": 1102, "titleY": -39, "titleAlign": "right", "titleBaseline": "alphabetic", "titleAngle": 0}}
      }
    }
  ]
}
